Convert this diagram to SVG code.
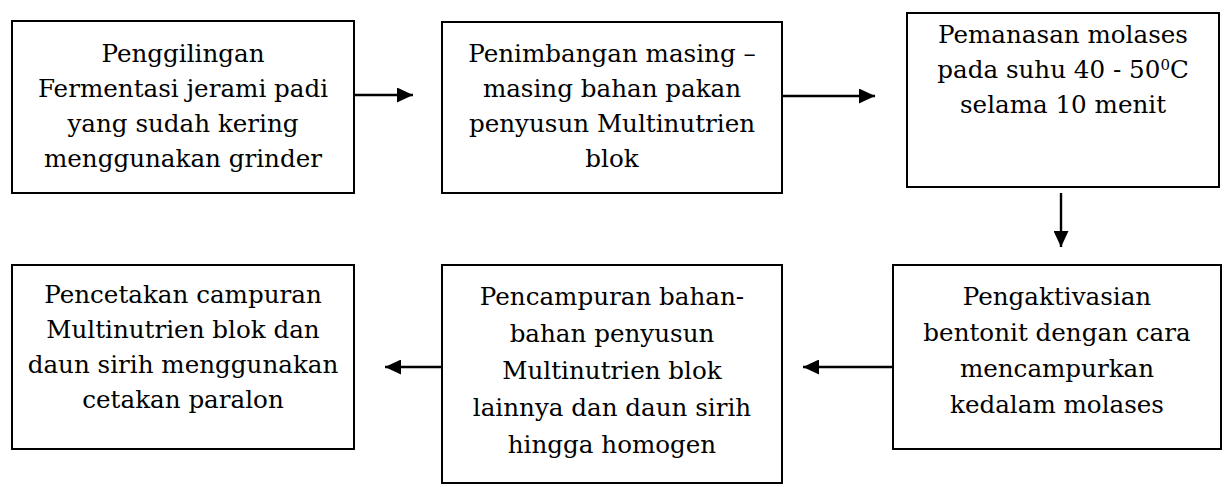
<svg xmlns="http://www.w3.org/2000/svg" width="1225" height="487" viewBox="0 0 1225 487">
<style>
.box{fill:#fff;stroke:#000;stroke-width:2}
.t{font-family:"DejaVu Serif","Liberation Serif",serif;font-size:24.6px;fill:#000;text-anchor:middle}
.c{stroke:#000;stroke-width:2.4;fill:none}
</style>
<defs>
<marker id="ah" markerWidth="16" markerHeight="15" refX="16" refY="7.5" orient="auto" markerUnits="userSpaceOnUse">
<path d="M0,0 L16,7.5 L0,15 Z" fill="#000"/>
</marker>
</defs>
<rect width="1225" height="487" fill="#fff"/>
<g id="n1">
<rect class="box" x="12" y="21" width="342" height="172"/>
<text class="t" x="183" y="62">Penggilingan</text>
<text class="t" x="183" y="97">Fermentasi jerami padi</text>
<text class="t" x="183" y="132">yang sudah kering</text>
<text class="t" x="183" y="167">menggunakan grinder</text>
</g>
<g id="n2">
<rect class="box" x="442" y="22" width="340" height="171"/>
<text class="t" x="612" y="62">Penimbangan masing –</text>
<text class="t" x="612" y="97">masing bahan pakan</text>
<text class="t" x="612" y="132">penyusun Multinutrien</text>
<text class="t" x="612" y="167">blok</text>
</g>
<g id="n3">
<rect class="box" x="907" y="13" width="312" height="174"/>
<text class="t" x="1063" y="43">Pemanasan molases</text>
<text class="t" x="1063" y="78">pada suhu 40 - 50<tspan font-size="15" dy="-8">0</tspan><tspan dy="8">C</tspan></text>
<text class="t" x="1063" y="113">selama 10 menit</text>
</g>
<g id="n4">
<rect class="box" x="12" y="265" width="342" height="184"/>
<text class="t" x="183" y="303">Pencetakan campuran</text>
<text class="t" x="183" y="338">Multinutrien blok dan</text>
<text class="t" x="183" y="373">daun sirih menggunakan</text>
<text class="t" x="183" y="408">cetakan paralon</text>
</g>
<g id="n5">
<rect class="box" x="442" y="265" width="340" height="218"/>
<text class="t" x="612" y="305">Pencampuran bahan-</text>
<text class="t" x="612" y="342">bahan penyusun</text>
<text class="t" x="612" y="379">Multinutrien blok</text>
<text class="t" x="612" y="416">lainnya dan daun sirih</text>
<text class="t" x="612" y="453">hingga homogen</text>
</g>
<g id="n6">
<rect class="box" x="893" y="265" width="328" height="184"/>
<text class="t" x="1057" y="305">Pengaktivasian</text>
<text class="t" x="1057" y="341">bentonit dengan cara</text>
<text class="t" x="1057" y="377">mencampurkan</text>
<text class="t" x="1057" y="413">kedalam molases</text>
</g>
<g id="connectors">
<line class="c" x1="355" y1="95" x2="413" y2="95" marker-end="url(#ah)"/>
<line class="c" x1="783" y1="96" x2="875" y2="96" marker-end="url(#ah)"/>
<line class="c" x1="1061" y1="193" x2="1061" y2="247" marker-end="url(#ah)"/>
<line class="c" x1="893" y1="367" x2="803" y2="367" marker-end="url(#ah)"/>
<line class="c" x1="441" y1="367" x2="385" y2="367" marker-end="url(#ah)"/>
</g>
</svg>
